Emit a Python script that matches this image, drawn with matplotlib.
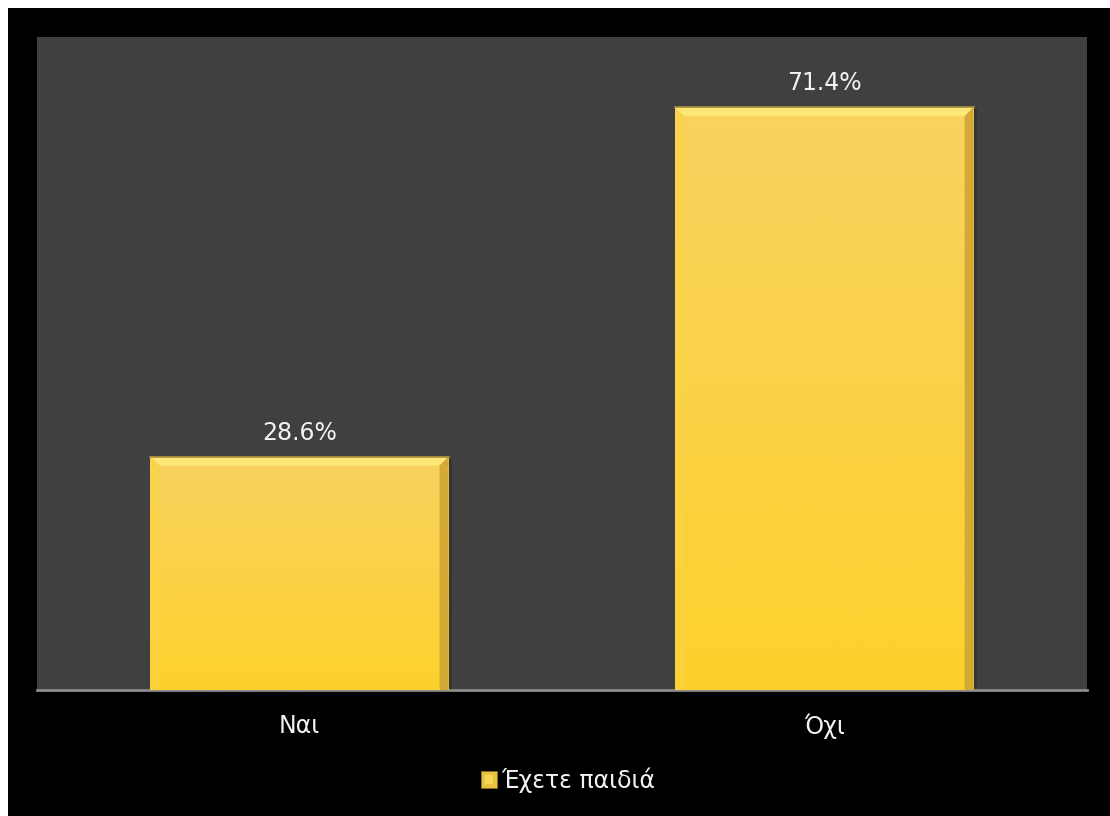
import numpy as np
import matplotlib.pyplot as plt
from matplotlib.patches import Rectangle, Polygon
from matplotlib.colors import LinearSegmentedColormap
from matplotlib.legend_handler import HandlerBase

# data
categories = ['Ναι', 'Όχι']
values = [28.6, 71.4]
series_name = 'Έχετε παιδιά'

plt.rcParams['font.family'] = ['DejaVu Sans']

W, H = 1110, 816
fig = plt.figure(figsize=(W / 100, H / 100), dpi=100)
fig.patch.set_facecolor('white')
# black card behind the chart
fig.add_artist(Rectangle((8 / W, 0), 1 - 8 / W, 1 - 8 / H, transform=fig.transFigure,
                         facecolor='black', edgecolor='none', zorder=-10))

ax = fig.add_axes([37 / W, (H - 690) / H, 1050 / W, 653 / H])
ax.set_facecolor('#404040')
ax.set_xlim(-0.5, 1.5)
ax.set_ylim(0, 80)
for s in ['top', 'right', 'left']:
    ax.spines[s].set_visible(False)
ax.spines['bottom'].set_color('#8c8c8c')
ax.spines['bottom'].set_linewidth(2)
ax.set_yticks([])
ax.set_xticks(range(len(categories)))
ax.set_xticklabels(categories, fontsize=17, color='#f2f2f2')
ax.tick_params(axis='x', length=0, pad=17)

grad = LinearSegmentedColormap.from_list('g', ['#fdd12c', '#f8d160'])
bar_w = 0.568
bars = ax.bar(range(len(categories)), values, width=bar_w, color='#f9d14a',
              edgecolor='none', zorder=2, label=series_name)

# pixel -> data scale factors
px_x = (ax.get_xlim()[1] - ax.get_xlim()[0]) / 1050
px_y = (ax.get_ylim()[1] - ax.get_ylim()[0]) / 653
bev = 9

for b, v in zip(bars, values):
    x0, w, h = b.get_x(), b.get_width(), b.get_height()
    x1 = x0 + w
    img = ax.imshow(np.linspace(0, 1, 256).reshape(-1, 1), cmap=grad, aspect='auto',
                    extent=[x0, x1, 0, h], origin='lower', zorder=3)
    img.set_clip_path(b)
    dx, dy = bev * px_x, bev * px_y
    # bevel edges
    ax.add_patch(Polygon([(x0, h), (x1, h), (x1 - dx, h - dy), (x0 + dx, h - dy)],
                         closed=True, facecolor='#fbe877', edgecolor='none', zorder=4))
    ax.add_patch(Polygon([(x0, 0), (x0, h), (x0 + dx, h - dy), (x0 + dx, 0)],
                         closed=True, facecolor='#fbd445', edgecolor='none', alpha=0.6, zorder=4))
    ax.add_patch(Polygon([(x1, 0), (x1, h), (x1 - dx, h - dy), (x1 - dx, 0)],
                         closed=True, facecolor='#d2aa35', edgecolor='none', zorder=4))
    ax.plot([x0, x1], [h, h], color='#a88a3a', lw=1.2, zorder=5)
    # soft shadow on the right
    ax.add_patch(Rectangle((x1, 0), 3 * px_x, h - 2 * px_y, facecolor='black',
                           alpha=0.18, edgecolor='none', zorder=1))
    ax.annotate(f'{v:.1f}%', (b.get_x() + w / 2, h), xytext=(0, 12),
                textcoords='offset pixels', ha='center', va='bottom',
                fontsize=17, color='#f2f2f2', zorder=6)


class BevelSquare(HandlerBase):
    def create_artists(self, legend, orig, xd, yd, width, height, fontsize, trans):
        s = height * 1.0
        x = xd + width - s
        y = yd
        base = Rectangle((x, y), s, s, facecolor='#e8c43a', edgecolor='#8a7020',
                         lw=0.6, transform=trans)
        inner = Rectangle((x + s * 0.25, y + s * 0.25), s * 0.5, s * 0.5,
                          facecolor='#f6d75a', edgecolor='none', transform=trans)
        return [base, inner]


leg = fig.legend(handles=[bars], labels=[series_name], loc='center',
                 bbox_to_anchor=(567 / W, 1 - 780 / H), frameon=False, fontsize=17,
                 handler_map={type(bars): BevelSquare()}, handlelength=0.8,
                 handletextpad=0.2)
for t in leg.get_texts():
    t.set_color('#f2f2f2')

fig.savefig('out.png', dpi=100, facecolor=fig.get_facecolor())
